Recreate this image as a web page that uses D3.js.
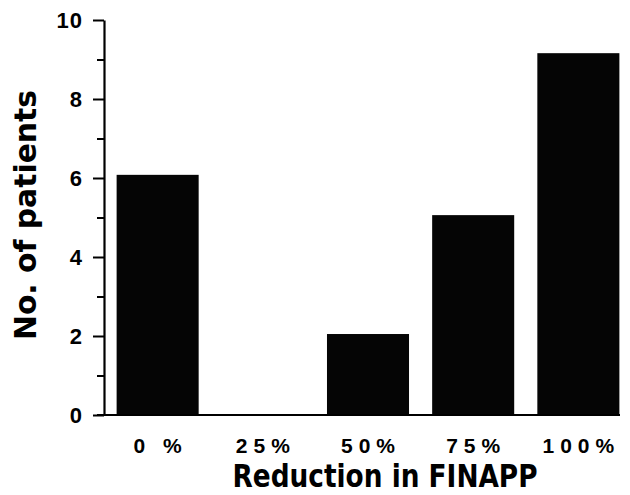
<!DOCTYPE html>
<html lang="en">
<head>
<meta charset="UTF-8">
<title>Reduction in FINAPP</title>
<script src="https://d3js.org/d3.v7.min.js"></script>
<style>
    body { margin: 0; background: #fff; }
    .tick text { font-family: "Liberation Sans", Arial, sans-serif; font-weight: bold; }
    .title { font-family: "DejaVu Sans Condensed", "DejaVu Sans", sans-serif; font-weight: bold; }
</style>
</head>
<body>
<svg width="630" height="495"></svg>
<script>
    const categories = ["0 %", "25%", "50%", "75%", "100%"];
    const patients = [6.08, 0, 2.05, 5.06, 9.16];
    const majorTicks = [0, 2, 4, 6, 8, 10];
    const minorTicks = [1, 3, 5, 7, 9];

    const svg = d3.select("svg");

    const x = d3.scaleBand()
        .domain(categories)
        .range([104, 632])
        .paddingInner(0.22)
        .paddingOuter(0.12);

    const y = d3.scaleLinear()
        .domain([0, 10])
        .range([415, 20]);

    // bars
    svg.selectAll(".bar")
        .data(categories)
        .enter().append("rect")
        .attr("class", "bar")
        .attr("x", d => x(d))
        .attr("width", x.bandwidth())
        .attr("y", (d, i) => y(patients[i]))
        .attr("height", (d, i) => y(0) - y(patients[i]))
        .attr("fill", "#050505");

    // y axis, major ticks with labels
    const yAxis = svg.append("g")
        .attr("transform", "translate(104,0)")
        .call(d3.axisLeft(y).tickValues(majorTicks).tickFormat(d3.format("d"))
            .tickSize(11).tickSizeOuter(0).tickPadding(10));
    yAxis.select(".domain").attr("stroke-width", 2.2).attr("stroke", "#000");
    yAxis.selectAll(".tick line").attr("stroke-width", 2).attr("stroke", "#000");
    yAxis.selectAll(".tick text")
        .attr("font-size", 22)
        .attr("fill", "#000")
        .style("letter-spacing", "1px");

    // y axis, minor ticks
    const yMinor = svg.append("g")
        .attr("transform", "translate(104,0)")
        .call(d3.axisLeft(y).tickValues(minorTicks).tickFormat("").tickSize(7).tickSizeOuter(0));
    yMinor.select(".domain").remove();
    yMinor.selectAll(".tick line").attr("stroke-width", 2).attr("stroke", "#000");

    // x axis
    const xAxis = svg.append("g")
        .attr("transform", `translate(0,${y(0)})`)
        .call(d3.axisBottom(x).tickSize(0).tickPadding(23));
    xAxis.select(".domain").remove();
    xAxis.selectAll(".tick text")
        .attr("font-size", 21)
        .attr("fill", "#000")
        .style("letter-spacing", "6px")
        .attr("dx", 3);
    svg.append("line")
        .attr("x1", 97).attr("x2", 620)
        .attr("y1", y(0)).attr("y2", y(0))
        .attr("stroke", "#000").attr("stroke-width", 2.2);

    // axis titles
    svg.append("text")
        .attr("class", "title")
        .attr("x", 385).attr("y", 487)
        .attr("text-anchor", "middle")
        .attr("font-size", 32)
        .attr("textLength", 305)
        .attr("lengthAdjust", "spacingAndGlyphs")
        .text("Reduction in FINAPP");

    svg.append("text")
        .attr("class", "title")
        .attr("transform", "translate(36,215) rotate(-90)")
        .attr("text-anchor", "middle")
        .attr("font-size", 31)
        .attr("textLength", 250)
        .attr("lengthAdjust", "spacingAndGlyphs")
        .text("No. of patients");
</script>
</body>
</html>
